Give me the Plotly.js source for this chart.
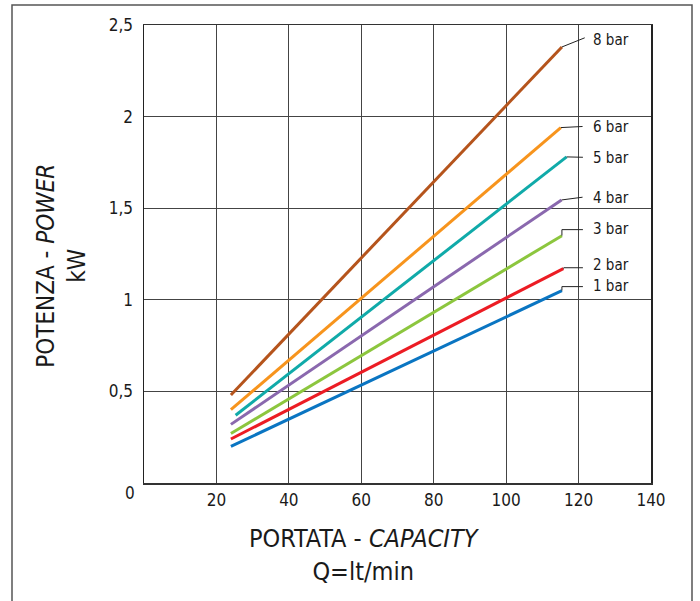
<!DOCTYPE html>
<html>
<head>
<meta charset="utf-8">
<script src="https://cdn.plot.ly/plotly-3.0.1.min.js"></script>
<style>html,body{margin:0;padding:0;background:#fff;}#chart{width:700px;height:601px;}</style>
</head>
<body>
<div id="chart"></div>
<script>
// ---- data ----
const seriesNames = ['1 bar', '2 bar', '3 bar', '4 bar', '5 bar', '6 bar', '8 bar'];
const flowStart   = [24, 24, 24, 24, 25.3, 24, 24];
const flowEnd     = [115.4, 115.8, 115.4, 115.3, 116.7, 115.1, 115.4];
const powerStart  = [0.20, 0.24, 0.27, 0.32, 0.37, 0.40, 0.48];
const powerEnd    = [1.05, 1.17, 1.35, 1.545, 1.78, 1.94, 2.38];
const seriesColors = ['#0a75c2', '#ec1c24', '#8cc63e', '#8a68ae', '#10aaa9', '#f7941d', '#b5541c'];

// label placement (layout)
const labelY   = [1.075, 1.19, 1.387, 1.556, 1.774, 1.943, 2.418];
const leaderY  = [1.072, 1.175, 1.383, 1.560, 1.778, 1.946, 2.430];
const kneeX    = [115.4, 115.9, 115.4, null, null, null, null];
const leaderEndX = [121.2, 121.2, 121.2, 121.1, 121.2, 121.1, 121.7];
const labelX = 123.4;

const xTicks = [20, 40, 60, 80, 100, 120, 140];
const yTicks = [0.5, 1, 1.5, 2, 2.5];
const yTickText = ['0,5', '1', '1,5', '2', '2,5'];

const FONT = '"Liberation Sans Narrow", "DejaVu Sans Condensed", "Roboto Condensed", Arial, sans-serif';

const traces = [];
seriesNames.forEach((n, i) => {
  traces.push({
    type: 'scatter', mode: 'lines', name: n,
    x: [flowStart[i], flowEnd[i]],
    y: [powerStart[i], powerEnd[i]],
    line: {color: seriesColors[i], width: 3},
    hoverinfo: 'skip', showlegend: false
  });
});
// leader lines
seriesNames.forEach((n, i) => {
  const xs = [flowEnd[i]], ys = [powerEnd[i]];
  if (kneeX[i] !== null) { xs.push(kneeX[i]); ys.push(leaderY[i]); }
  xs.push(leaderEndX[i]); ys.push(leaderY[i]);
  traces.push({
    type: 'scatter', mode: 'lines', x: xs, y: ys,
    line: {color: '#222', width: 1}, hoverinfo: 'skip', showlegend: false
  });
});

const annotations = seriesNames.map((n, i) => ({
  x: labelX, y: labelY[i], xref: 'x', yref: 'y', text: n, showarrow: false,
  xanchor: 'left', yanchor: 'middle', font: {family: FONT, size: 15, color: '#1a1a1a'}
}));
annotations.push({
  x: 0, y: 0, xref: 'paper', yref: 'y', text: '0', showarrow: false,
  xanchor: 'right', yanchor: 'middle', xshift: -7, yshift: -10,
  font: {family: FONT, size: 17, color: '#1a1a1a'}
});
annotations.push({
  x: 0.434, y: -0.157, xref: 'paper', yref: 'paper',
  text: 'PORTATA - <i>CAPACITY</i><br>Q=lt/min', showarrow: false,
  xanchor: 'center', yanchor: 'middle',
  font: {family: FONT, size: 25, color: '#1a1a1a'}
});
annotations.push({
  x: -0.162, y: 0.474, xref: 'paper', yref: 'paper', textangle: -90,
  text: 'POTENZA - <i>POWER</i><br>kW', showarrow: false,
  xanchor: 'center', yanchor: 'middle',
  font: {family: FONT, size: 24, color: '#1a1a1a'}
});

const layout = {
  width: 700, height: 601,
  margin: {l: 144, r: 49, t: 25, b: 118},
  paper_bgcolor: '#fff', plot_bgcolor: '#fff',
  showlegend: false,
  xaxis: {
    range: [0, 140], tickvals: xTicks, ticktext: xTicks.map(String),
    showgrid: true, gridcolor: '#444', gridwidth: 1,
    showline: true, mirror: true, linecolor: '#333', linewidth: 1.5,
    zeroline: false, ticks: '', ticklabelstandoff: 1,
    tickfont: {family: FONT, size: 17, color: '#1a1a1a'}
  },
  yaxis: {
    range: [0, 2.5], tickvals: yTicks, ticktext: yTickText,
    showgrid: true, gridcolor: '#444', gridwidth: 1,
    showline: true, mirror: true, linecolor: '#222', linewidth: 1.5,
    zeroline: false, ticks: '', ticklabelstandoff: 6,
    tickfont: {family: FONT, size: 17, color: '#1a1a1a'}
  },
  annotations: annotations,
  shapes: [{
    type: 'rect', xref: 'paper', yref: 'paper',
    x0: (12 - 144) / 507, x1: (692 - 144) / 507,
    y0: (483 - 620) / 458, y1: (483 - 5) / 458,
    line: {color: '#555', width: 1.5}, fillcolor: 'rgba(0,0,0,0)'
  }]
};

Plotly.newPlot('chart', traces, layout, {staticPlot: true, displayModeBar: false});
</script>
</body>
</html>
